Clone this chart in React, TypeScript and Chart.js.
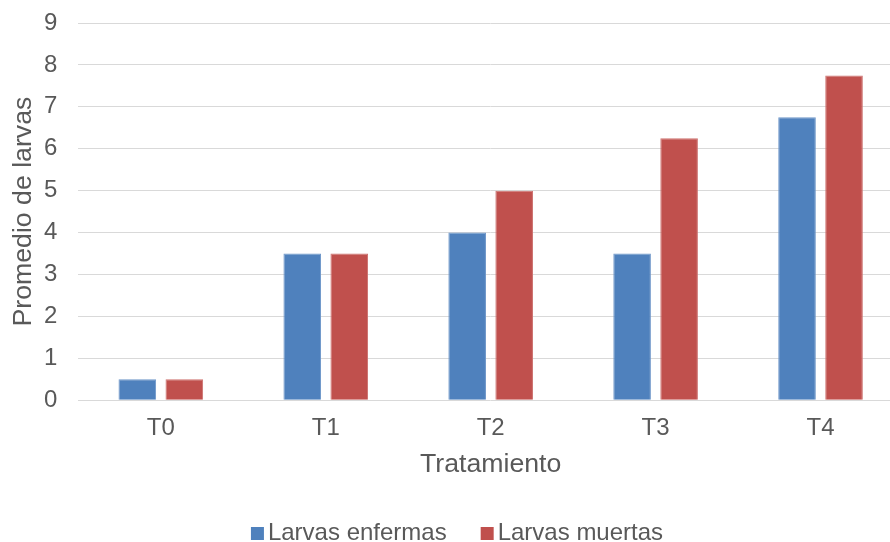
import React, { useEffect, useRef } from "react";
import { Chart, registerables } from "chart.js";

Chart.register(...registerables);

// Average number of larvae per treatment
const categories = ["T0", "T1", "T2", "T3", "T4"];
const larvasEnfermas = [0.5, 3.5, 4, 3.5, 6.75];
const larvasMuertas = [0.5, 3.5, 5, 6.25, 7.75];
const seriesNames = ["Larvas enfermas", "Larvas muertas"];
const seriesColors = ["#4f81bd", "#c0504d"];
const seriesBorders = ["#6f97c9", "#cd716f"];
const yTitle = "Promedio de larvas";
const xTitle = "Tratamiento";

const FONT = "'Liberation Sans', Arial, sans-serif";
const TEXT = "#595959";
const GRID = "#d9d9d9";

// Legend row under the axis title: small square swatch followed by the series name
const bottomLegend = {
  id: "bottomLegend",
  afterDraw(chart: Chart) {
    const ctx = chart.ctx;
    const datasets = chart.data.datasets;
    ctx.save();
    ctx.font = `24px ${FONT}`;
    ctx.textBaseline = "alphabetic";
    ctx.textAlign = "left";
    const box = 13;
    const gap = 4;
    const spacing = 34;
    const widths = datasets.map((d) => ctx.measureText(String(d.label)).width);
    const total =
      widths.reduce((s, w) => s + box + gap + w, 0) + spacing * (datasets.length - 1);
    let x = chart.width / 2 + 4.5 - total / 2;
    const baseline = chart.height - 2;
    datasets.forEach((d, i) => {
      ctx.fillStyle = d.backgroundColor as string;
      ctx.fillRect(x, baseline - 13, box, box);
      ctx.fillStyle = TEXT;
      ctx.fillText(String(d.label), x + box + gap, baseline);
      x += box + gap + widths[i] + spacing;
    });
    ctx.restore();
  },
};

export default function App() {
  const ref = useRef<HTMLCanvasElement | null>(null);

  useEffect(() => {
    if (!ref.current) return;
    const chart = new Chart(ref.current, {
      type: "bar",
      data: {
        labels: categories,
        datasets: [
          {
            label: seriesNames[0],
            data: larvasEnfermas,
            backgroundColor: seriesColors[0],
            borderColor: seriesBorders[0],
            borderWidth: 1,
            barPercentage: 0.8,
            categoryPercentage: 0.57,
          },
          {
            label: seriesNames[1],
            data: larvasMuertas,
            backgroundColor: seriesColors[1],
            borderColor: seriesBorders[1],
            borderWidth: 1,
            barPercentage: 0.8,
            categoryPercentage: 0.57,
          },
        ],
      },
      plugins: [bottomLegend],
      options: {
        responsive: false,
        animation: false,
        layout: { padding: { top: 23, right: 2, left: 0, bottom: 56 } },
        plugins: {
          tooltip: { enabled: false },
          legend: { display: false },
        },
        scales: {
          x: {
            grid: { display: false },
            border: { display: false },
            ticks: {
              color: TEXT,
              font: { family: FONT, size: 24 },
              padding: 6,
            },
            title: {
              display: true,
              text: xTitle,
              color: TEXT,
              font: { family: FONT, size: 26.7 },
              padding: { top: 0, bottom: 5 },
            },
          },
          y: {
            min: 0,
            max: 9,
            afterFit(scale: any) {
              scale.paddingTop = 0;
              scale.paddingBottom = 0;
            },
            ticks: {
              stepSize: 1,
              color: TEXT,
              font: { family: FONT, size: 24 },
              padding: 21,
            },
            grid: { color: GRID, lineWidth: 1, drawTicks: false },
            border: { display: false },
            title: {
              display: true,
              text: yTitle,
              color: TEXT,
              font: { family: FONT, size: 26.7, lineHeight: 1 },
              padding: { top: 10.6, bottom: -14.3 },
            },
          },
        },
      },
    });
    return () => chart.destroy();
  }, []);

  return (
    <div
      style={{
        position: "fixed",
        left: 0,
        top: 0,
        width: 890,
        height: 542,
        overflow: "hidden",
        background: "#fff",
      }}
    >
      <canvas ref={ref} width={905} height={542} style={{ display: "block" }} />
    </div>
  );
}
